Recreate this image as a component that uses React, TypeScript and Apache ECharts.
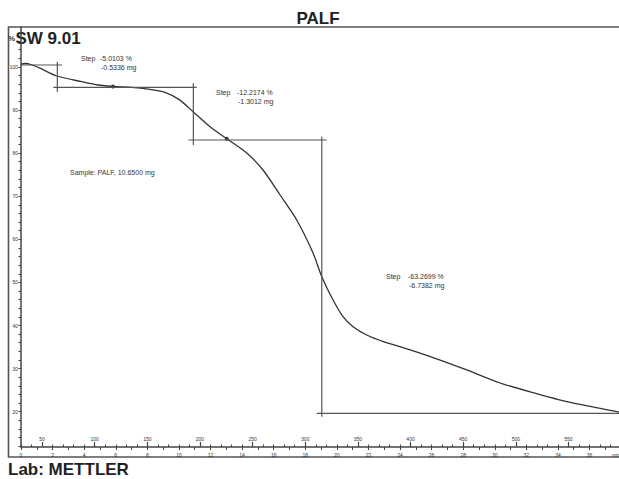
import React, { useEffect, useRef } from "react";
import * as echarts from "echarts";

// TGA curve: temperature (°C) vs mass (%)
const temps = [30, 33.8, 40, 48, 63.9, 87.7, 103.2, 117.4, 135.2, 150.7, 166.8, 181, 193.7, 209.6, 225.4, 244.4, 259.9, 276.1, 291.9, 307.4, 315.7, 326.4, 335.9, 345.4, 358.4, 374.2, 390, 421.4, 453.4, 485, 516.4, 548.4, 595.9, 598];
const mass = [100.67, 100.79, 100.5, 99.7, 97.89, 96.57, 95.8, 95.45, 95.27, 94.87, 94.1, 92.3, 89.54, 86.13, 83.34, 80.02, 76.08, 70.28, 64.48, 56.82, 51.32, 45.92, 42.04, 39.72, 37.79, 36.24, 35.08, 32.55, 29.68, 26.66, 24.41, 22.32, 20.0, 19.9];

// step evaluation lines [T, %]
const stepLines = [
  [[30, 100.44], [69, 100.44]],
  [[64.5, 101.2], [64.5, 94.25]],
  [[60.7, 95.27], [196.9, 95.27]],
  [[193.7, 96.2], [193.7, 81.9]],
  [[189, 83.04], [320.4, 83.04]],
  [[315.7, 83.8], [315.7, 18.84]],
  [[311, 19.63], [598, 19.63]],
];
const stepDots = [[117.4, 95.45], [225.4, 83.34]];

const yLabelValues = [20, 30, 40, 50, 60, 70, 80, 90, 100];
const yTickValues = [12, 14, 16, 18, 20, 22, 24, 26, 28, 30, 32, 34, 36, 38, 40, 42, 44, 46, 48, 50, 52, 54, 56, 58, 60, 62, 64, 66, 68, 70, 72, 74, 76, 78, 80, 82, 84, 86, 88, 90, 92, 94, 96, 98, 100, 102, 104, 106, 108];
const tempLabelValues = [50, 100, 150, 200, 250, 300, 350, 400, 450, 500, 550];

const title = "PALF";
const software = "SW 9.01";
const lab = "Lab: METTLER";
const sampleText = "Sample: PALF, 10.6500 mg";
const steps = [
  { name: "Step", pct: "-5.0103 %", mg: "-0.5336 mg" },
  { name: "Step", pct: "-12.2174 %", mg: "-1.3012 mg" },
  { name: "Step", pct: "-63.2699 %", mg: "-6.7382 mg" },
];

const FONT = "'Liberation Sans', Arial, sans-serif";

export default function App() {
  const ref = useRef<HTMLDivElement>(null);
  useEffect(() => {
    if (!ref.current) return;
    const chart = echarts.init(ref.current, null, { renderer: "svg" });
    const axisColor = "#444";
    const stepPos = [
      { x: 81, y: 58, nx: 100, ny2: 67 },
      { x: 216, y: 92, nx: 237, ny2: 101.5 },
      { x: 386, y: 276, nx: 408, ny2: 285 },
    ];
    const stepTexts: any[] = [];
    steps.forEach((s, i) => {
      const p = stepPos[i];
      stepTexts.push({ type: "text", x: p.x, y: p.y, style: { text: s.name, font: `7px ${FONT}`, fill: "#333", textVerticalAlign: "middle" } });
      stepTexts.push({ type: "text", x: p.nx, y: p.y, style: { text: s.pct, font: `7px ${FONT}`, fill: "#333", textVerticalAlign: "middle" } });
      stepTexts.push({ type: "text", x: p.nx + 1, y: p.ny2, style: { text: s.mg, font: `7px ${FONT}`, fill: "#333", textVerticalAlign: "middle" } });
    });
    const option: any = {
      animation: false,
      grid: { left: 21, right: 0, top: 27, bottom: 32, containLabel: false },
      xAxis: [
        {
          type: "value",
          min: 30,
          max: 598,
          position: "bottom",
          axisLine: { show: true, lineStyle: { color: axisColor, width: 1.5 } },
          axisTick: { show: true, inside: true, length: 5, customValues: tempLabelValues, lineStyle: { color: axisColor, width: 1.2 } },
          axisLabel: { show: true, inside: true, customValues: tempLabelValues, fontSize: 5, color: "#333", margin: 6, fontFamily: FONT },
          splitLine: { show: false },
        },
        {
          type: "value",
          min: 30,
          max: 598,
          interval: 10,
          position: "bottom",
          axisLine: { show: false },
          axisTick: { show: true, inside: true, length: 2.5, lineStyle: { color: axisColor, width: 1 } },
          axisLabel: { show: false },
          splitLine: { show: false },
        },
        {
          type: "value",
          min: 0,
          max: 568 / 15,
          interval: 1,
          position: "bottom",
          axisLine: { show: false },
          axisTick: { show: true, inside: false, length: 3, lineStyle: { color: axisColor, width: 1 } },
          axisLabel: {
            show: true,
            fontSize: 5,
            color: "#333",
            margin: 5,
            fontFamily: FONT,
            showMaxLabel: false,
            formatter: (v: number) => (Math.round(v) % 2 === 0 ? String(Math.round(v)) : ""),
          },
          splitLine: { show: false },
        },
      ],
      yAxis: {
        type: "value",
        min: 11.81,
        max: 109.26,
        axisLine: { show: true, lineStyle: { color: axisColor, width: 1.5 } },
        axisTick: { show: true, inside: false, length: 2.5, customValues: yTickValues, lineStyle: { color: axisColor, width: 1 } },
        axisLabel: { show: true, customValues: yLabelValues, fontSize: 5, color: "#333", margin: 3, fontFamily: FONT },
        splitLine: { show: false },
      },
      series: [
        {
          type: "line",
          xAxisIndex: 0,
          data: temps.map((t, i) => [t, mass[i]]),
          showSymbol: false,
          smooth: 0.25,
          lineStyle: { color: "#333", width: 1.3 },
          silent: true,
        },
        ...stepLines.map((seg) => ({
          type: "line",
          xAxisIndex: 0,
          data: seg,
          showSymbol: false,
          lineStyle: { color: "#555", width: 1.2 },
          silent: true,
        })),
        {
          type: "scatter",
          xAxisIndex: 0,
          data: stepDots,
          symbolSize: 4,
          itemStyle: { color: "#111" },
          silent: true,
        },
      ],
      graphic: [
        { type: "rect", shape: { x: 8.5, y: 27, width: 640, height: 430 }, style: { fill: "none", stroke: "#555", lineWidth: 1.6 }, silent: true },
        { type: "text", x: 318, y: 18, style: { text: title, font: `bold 17px ${FONT}`, fill: "#222", textAlign: "center", textVerticalAlign: "middle" } },
        { type: "text", x: 8, y: 38, style: { text: "%", font: `bold 8px ${FONT}`, fill: "#333", textVerticalAlign: "middle" } },
        { type: "text", x: 15.5, y: 38.5, style: { text: software, font: `bold 17px ${FONT}`, fill: "#222", textVerticalAlign: "middle" } },
        { type: "text", x: 8, y: 469.5, style: { text: lab, font: `bold 17px ${FONT}`, fill: "#222", textVerticalAlign: "middle" } },
        { type: "text", x: 70, y: 172.5, style: { text: sampleText, font: `7px ${FONT}`, fill: "#333", textVerticalAlign: "middle" } },
        { type: "text", x: 612, y: 455, style: { text: "min", font: `5px ${FONT}`, fill: "#333", textVerticalAlign: "middle" } },
        ...stepTexts,
      ],
    };
    chart.setOption(option);
    return () => chart.dispose();
  }, []);
  return (
    <div
      ref={ref}
      style={{ position: "fixed", left: 0, top: 0, width: 619, height: 479, background: "#fff" }}
    />
  );
}
